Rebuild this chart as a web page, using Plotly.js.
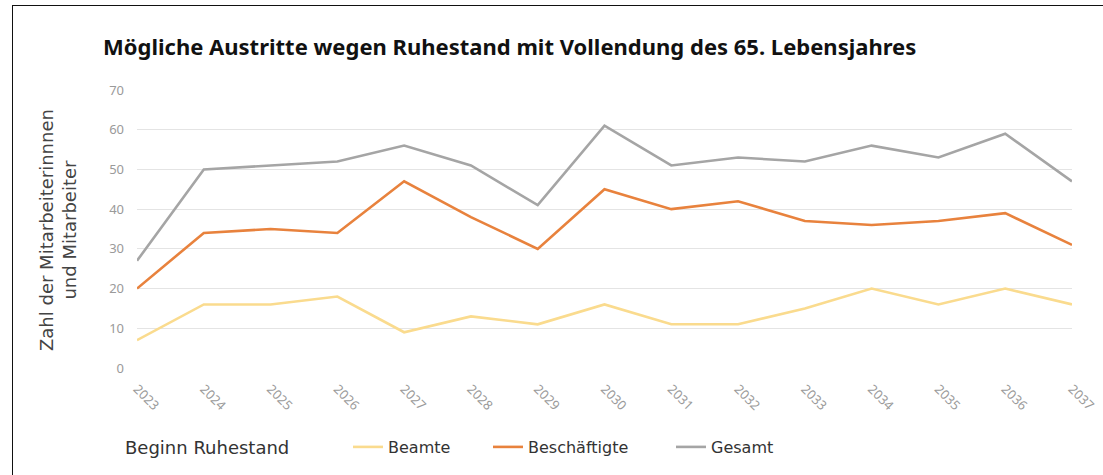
<!DOCTYPE html>
<html>
<head>
<meta charset="utf-8">
<script src="https://cdn.plot.ly/plotly-3.0.1.min.js"></script>
<style>
  html, body { margin: 0; padding: 0; background: #fff; }
  #wrap { position: relative; width: 1103px; height: 475px; overflow: hidden; }
  #frame { position: absolute; left: 12px; top: 5px; width: 1200px; height: 600px; border: 1.5px solid #111; box-sizing: border-box; pointer-events: none; }
  #chart { position: absolute; left: 0; top: 0; width: 1103px; height: 475px; }
</style>
</head>
<body>
<div id="wrap">
  <div id="chart"></div>
  <div id="frame"></div>
</div>
<script>
const years = ['2023','2024','2025','2026','2027','2028','2029','2030','2031','2032','2033','2034','2035','2036','2037'];
const beamte = [7, 16, 16, 18, 9, 13, 11, 16, 11, 11, 15, 20, 16, 20, 16];
const beschaeftigte = [20, 34, 35, 34, 47, 38, 30, 45, 40, 42, 37, 36, 37, 39, 31];
const gesamt = [27, 50, 51, 52, 56, 51, 41, 61, 51, 53, 52, 56, 53, 59, 47];
const yTicks = [0, 10, 20, 30, 40, 50, 60, 70];

const TFONT = 'Noto Sans, DejaVu Sans, sans-serif';
const FONT = 'DejaVu Sans, Noto Sans, sans-serif';

const traces = [
  { x: years, y: beamte, name: 'Beamte', type: 'scatter', mode: 'lines', legend: 'legend',
    line: { color: '#FADB8E', width: 2.6 } },
  { x: years, y: beschaeftigte, name: 'Beschäftigte', type: 'scatter', mode: 'lines', legend: 'legend2',
    line: { color: '#E8823D', width: 2.6 } },
  { x: years, y: gesamt, name: 'Gesamt', type: 'scatter', mode: 'lines', legend: 'legend3',
    line: { color: '#A5A5A5', width: 2.6 } }
];

function leg(px) {
  return {
    orientation: 'h',
    xref: 'container', yref: 'container',
    x: px / 1103, xanchor: 'left',
    y: 1 - 447 / 475, yanchor: 'middle',
    font: { family: FONT, size: 16, color: '#333' },
    bgcolor: 'rgba(0,0,0,0)'
  };
}

const layout = {
  width: 1103, height: 475,
  margin: { l: 137, r: 31, t: 90, b: 107 },
  paper_bgcolor: 'rgba(0,0,0,0)', plot_bgcolor: 'rgba(0,0,0,0)',
  font: { family: FONT, color: '#333' },
  title: {
    text: '<b>Mögliche Austritte wegen Ruhestand mit Vollendung des 65. Lebensjahres</b>',
    font: { family: TFONT, size: 22, color: '#111' },
    xref: 'container', yref: 'container',
    x: 103 / 1103, xanchor: 'left',
    y: 1 - 47 / 475, yanchor: 'middle'
  },
  xaxis: {
    type: 'category', range: [0, 14],
    showgrid: false, zeroline: false, showline: false,
    ticks: '', tickangle: 45,
    tickfont: { family: TFONT, size: 13, color: '#9a9a9a' },
    ticklabelstandoff: 10
  },
  yaxis: {
    range: [0, 70], tickvals: yTicks,
    showgrid: true, gridcolor: '#e4e4e4', gridwidth: 1,
    zeroline: false, showline: false, ticks: '',
    tickfont: { family: TFONT, size: 13, color: '#9a9a9a' },
    ticklabelstandoff: 12
  },
  showlegend: true,
  legend: leg(348),
  legend2: leg(488),
  legend3: leg(671),
  annotations: [
    { text: 'Zahl der Mitarbeiterinnnen<br>und Mitarbeiter',
      xref: 'paper', yref: 'paper',
      x: (58 - 137) / 935, y: (368 - 230) / 278,
      xanchor: 'center', yanchor: 'middle', textangle: -90,
      showarrow: false,
      font: { family: FONT, size: 18, color: '#444' } },
    { text: 'Beginn Ruhestand',
      xref: 'paper', yref: 'paper',
      x: (123 - 137) / 935, y: (368 - 447) / 278,
      xanchor: 'left', yanchor: 'middle',
      showarrow: false,
      font: { family: FONT, size: 18, color: '#333' } }
  ]
};

Plotly.newPlot('chart', traces, layout, { displayModeBar: false, staticPlot: true });
</script>
</body>
</html>
